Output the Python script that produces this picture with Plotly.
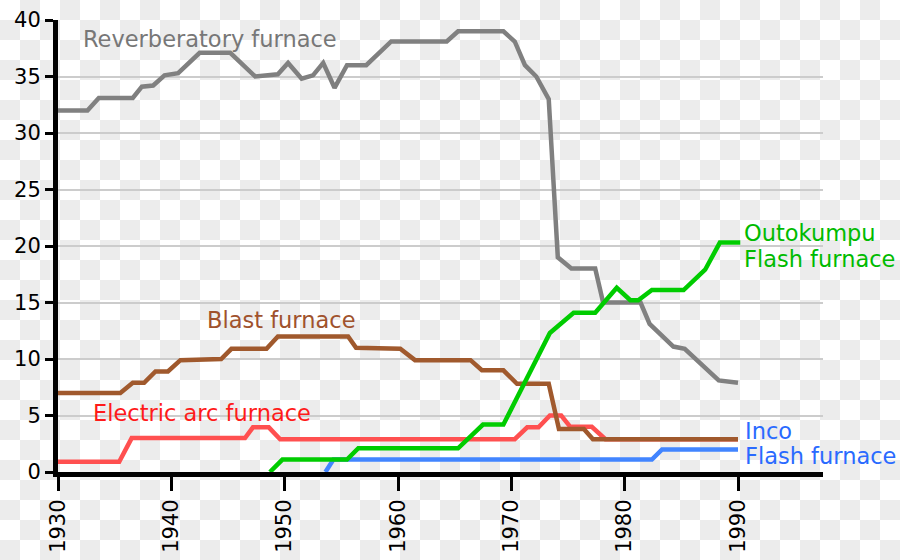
import base64
import plotly.graph_objects as go

# ---- data ----
reverb_x = [1930, 1932.6, 1933.6, 1936.6, 1937.4, 1938.4, 1939.4, 1940.6, 1942.5, 1945.2,
            1947.4, 1949.4, 1950.3, 1951.5, 1952.5, 1953.4, 1954.4, 1955.5, 1957.2, 1959.4,
            1964.3, 1965.3, 1969.3, 1970.3, 1971.2, 1972.2, 1973.3, 1974.1, 1975.3, 1977.4,
            1978.1, 1981.4, 1982.2, 1984.3, 1985.3, 1988.3, 1990]
reverb_y = [32, 32, 33.1, 33.1, 34.1, 34.2, 35.1, 35.3, 37.1, 37.1,
            35.0, 35.2, 36.2, 34.8, 35.1, 36.2, 34.0, 36.0, 36.0, 38.1,
            38.1, 39.0, 39.0, 38.1, 36.0, 35.0, 33.0, 19.0, 18.0, 18.0,
            15.0, 15.0, 13.1, 11.1, 10.9, 8.1, 7.9]

outo_x = [1948.7, 1949.8, 1955.5, 1956.5, 1965.3, 1967.5, 1969.3, 1973.4, 1975.5, 1977.4,
          1979.3, 1980.5, 1981.2, 1982.4, 1985.2, 1987.1, 1988.4, 1990.2]
outo_y = [0, 1.1, 1.1, 2.1, 2.1, 4.2, 4.2, 12.3, 14.1, 14.1,
          16.3, 15.2, 15.2, 16.1, 16.1, 17.9, 20.3, 20.3]

blast_x = [1930, 1935.5, 1936.6, 1937.6, 1938.6, 1939.7, 1940.8, 1944.4, 1945.3, 1948.4,
           1949.4, 1955.6, 1956.3, 1960.2, 1961.5, 1966.4, 1967.4, 1969.3, 1970.5, 1973.3,
           1974.2, 1976.4, 1977.2, 1990]
blast_y = [7, 7, 7.9, 7.9, 8.9, 8.9, 9.9, 10.0, 10.9, 10.9,
           12.0, 12.0, 11.0, 10.9, 9.9, 9.9, 9.0, 9.0, 7.8, 7.8,
           3.8, 3.8, 2.9, 2.9]

arc_x = [1930, 1935.4, 1936.5, 1946.5, 1947.2, 1948.6, 1949.6, 1970.3, 1971.4, 1972.4,
         1973.4, 1974.4, 1975.2, 1977.1, 1978.3, 1990]
arc_y = [0.9, 0.9, 3.0, 3.0, 3.95, 3.95, 2.9, 2.9, 3.95, 3.95,
         5.0, 5.0, 4.0, 4.0, 2.9, 2.9]

inco_x = [1953.6, 1954.3, 1982.4, 1983.3, 1990]
inco_y = [0, 1.1, 1.1, 2.0, 2.0]

x_ticks = [1930, 1940, 1950, 1960, 1970, 1980, 1990]
y_ticks = [0, 5, 10, 15, 20, 25, 30, 35, 40]

# ---- styling ----
GREY, BROWN, RED, GREEN, BLUE = "#808080", "#a0592d", "#ff5050", "#00cc00", "#4285ff"
FONT = "DejaVu Sans"
LW = 4.5

fig = go.Figure()
for xs, ys, col in [(inco_x, inco_y, BLUE), (arc_x, arc_y, RED), (blast_x, blast_y, BROWN),
                    (reverb_x, reverb_y, GREY), (outo_x, outo_y, GREEN)]:
    fig.add_trace(go.Scatter(x=xs, y=ys, mode="lines", line=dict(color=col, width=LW),
                             hoverinfo="skip", showlegend=False))

labels = [
    ("Reverberatory furnace", 1932.0, 38.3, "#777777"),
    ("Blast furnace", 1943.0, 13.45, "#a0522d"),
    ("Electric arc furnace", 1932.95, 5.2, "#ff1a1a"),
    ("Outokumpu", 1990.35, 21.15, "#00bb00"),
    ("Flash furnace", 1990.35, 18.85, "#00bb00"),
    ("Inco", 1990.45, 3.6, "#2a6aff"),
    ("Flash furnace", 1990.45, 1.4, "#2a6aff"),
]
for t, x, y, c in labels:
    fig.add_annotation(x=x, y=y, text=t, showarrow=False, xanchor="left", yanchor="middle",
                       font=dict(family=FONT, size=22.5, color=c))

# checkerboard background (transparency pattern seen in the reference)
svg = ('<svg xmlns="http://www.w3.org/2000/svg" width="900" height="560">'
       '<defs><pattern id="p" width="40" height="40" patternUnits="userSpaceOnUse">'
       '<rect width="40" height="40" fill="#ffffff"/>'
       '<rect x="20" y="0" width="20" height="20" fill="#ececec"/>'
       '<rect x="0" y="20" width="20" height="20" fill="#ececec"/></pattern></defs>'
       '<rect width="900" height="560" fill="url(#p)"/></svg>')
uri = "data:image/svg+xml;base64," + base64.b64encode(svg.encode()).decode()

L, R, T, B = 58, 77, 20, 88
pw, ph = 900 - L - R, 560 - T - B
fig.add_layout_image(source=uri, xref="paper", yref="paper", x=-L / pw, y=1 + T / ph,
                     sizex=900 / pw, sizey=560 / ph, xanchor="left", yanchor="top",
                     sizing="stretch", layer="below")

fig.update_layout(
    width=900, height=560,
    margin=dict(l=L, r=R, t=T, b=B),
    paper_bgcolor="white", plot_bgcolor="rgba(0,0,0,0)",
    font=dict(family=FONT, size=21, color="black"),
    xaxis=dict(range=[1930, 1997.5], tickvals=x_ticks, tickangle=-90, showgrid=False,
               automargin=False,
               zeroline=False, showline=True, linecolor="black", linewidth=5,
               ticks="outside", ticklen=14, tickwidth=3, tickcolor="black",
               tickfont=dict(family=FONT, size=21, color="black")),
    yaxis=dict(range=[0, 40], tickvals=y_ticks, showgrid=True, gridcolor="#cccccc",
               automargin=False,
               gridwidth=2, zeroline=False, showline=True, linecolor="black", linewidth=5,
               ticks="outside", ticklen=8, tickwidth=3, tickcolor="black",
               tickfont=dict(family=FONT, size=21, color="black")),
)

fig.write_html("out.html")
